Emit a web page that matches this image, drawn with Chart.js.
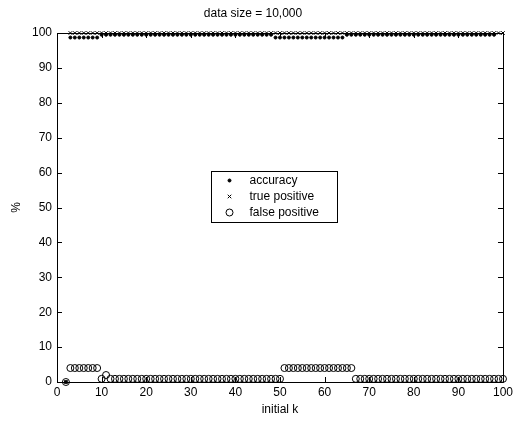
<!DOCTYPE html>
<html>
<head>
<meta charset="utf-8">
<script src="https://cdn.jsdelivr.net/npm/chart.js@4/dist/chart.umd.min.js"></script>
<style>
html,body{margin:0;padding:0;background:#fff;}
canvas{display:block;}
</style>
</head>
<body>
<canvas id="c" width="516" height="422"></canvas>
<script>
const titleText = 'data size = 10,000';
const xLabel = 'initial k';
const yLabel = '%';
const seriesNames = ['accuracy', 'true positive', 'false positive'];

const kValues = [2,3,4,5,6,7,8,9,10,11,12,13,14,15,16,17,18,19,20,21,22,23,24,25,26,27,28,29,30,31,32,33,34,35,36,37,38,39,40,41,42,43,44,45,46,47,48,49,50,51,52,53,54,55,56,57,58,59,60,61,62,63,64,65,66,67,68,69,70,71,72,73,74,75,76,77,78,79,80,81,82,83,84,85,86,87,88,89,90,91,92,93,94,95,96,97,98,99,100];

const accuracy = [0,
 98.7,98.7,98.7,98.7,98.7,98.7,98.7,
 99.5,99.5,99.5,99.5,99.5,99.5,99.5,99.5,99.5,99.5,99.5,99.5,99.5,99.5,99.5,99.5,99.5,99.5,99.5,99.5,99.5,99.5,99.5,99.5,99.5,99.5,99.5,99.5,99.5,99.5,99.5,99.5,99.5,99.5,99.5,99.5,99.5,99.5,99.5,
 98.7,98.7,98.7,98.7,98.7,98.7,98.7,98.7,98.7,98.7,98.7,98.7,98.7,98.7,98.7,98.7,
 99.5,99.5,99.5,99.5,99.5,99.5,99.5,99.5,99.5,99.5,99.5,99.5,99.5,99.5,99.5,99.5,99.5,99.5,99.5,99.5,99.5,99.5,99.5,99.5,99.5,99.5,99.5,99.5,99.5,99.5,99.5,99.5,99.5,99.5];

const truePositive = [0,
 100,100,100,100,100,100,100,100,100,100,100,100,100,100,100,100,100,100,100,100,100,100,100,100,100,100,100,100,100,100,100,100,100,100,100,100,100,100,100,100,100,100,100,100,100,100,100,100,
 100,100,100,100,100,100,100,100,100,100,100,100,100,100,100,100,100,100,100,100,100,100,100,100,100,100,100,100,100,100,100,100,100,100,100,100,100,100,100,100,100,100,100,100,100,100,100,100,100,100];

const falsePositive = [0,
 4,4,4,4,4,4,4,
 0.9,2,
 0.9,0.9,0.9,0.9,0.9,0.9,0.9,0.9,0.9,0.9,0.9,0.9,0.9,0.9,0.9,0.9,0.9,0.9,0.9,0.9,0.9,0.9,0.9,0.9,0.9,0.9,0.9,0.9,0.9,0.9,0.9,0.9,0.9,0.9,0.9,0.9,0.9,0.9,0.9,
 4,4,4,4,4,4,4,4,4,4,4,4,4,4,4,4,
 0.9,0.9,0.9,0.9,0.9,0.9,0.9,0.9,0.9,0.9,0.9,0.9,0.9,0.9,0.9,0.9,0.9,0.9,0.9,0.9,0.9,0.9,0.9,0.9,0.9,0.9,0.9,0.9,0.9,0.9,0.9,0.9,0.9,0.9];

const xTicks = [0,10,20,30,40,50,60,70,80,90,100];
const yTicks = [0,10,20,30,40,50,60,70,80,90,100];

const FONT = '"Liberation Sans", Arial, sans-serif';

function pts(vals){ return kValues.map((k,i)=>({x:k,y:vals[i]})); }

const boxAndTicks = {
  id: 'boxAndTicks',
  afterDatasetsDraw(chart){
    const ctx = chart.ctx, a = chart.chartArea;
    const xs = chart.scales.x, ys = chart.scales.y;
    ctx.save();
    ctx.strokeStyle = '#000';
    ctx.lineWidth = 1;
    ctx.beginPath();
    ctx.rect(Math.round(a.left)+0.5, Math.round(a.top)+0.5, Math.round(a.right-a.left), Math.round(a.bottom-a.top));
    ctx.stroke();
    const L = 5;
    ctx.beginPath();
    xTicks.forEach(v=>{
      const px = Math.round(xs.getPixelForValue(v))+0.5;
      ctx.moveTo(px, a.bottom); ctx.lineTo(px, a.bottom-L);
      ctx.moveTo(px, a.top); ctx.lineTo(px, a.top+L);
    });
    yTicks.forEach(v=>{
      const py = Math.round(ys.getPixelForValue(v))+0.5;
      ctx.moveTo(a.left, py); ctx.lineTo(a.left+L, py);
      ctx.moveTo(a.right, py); ctx.lineTo(a.right-L, py);
    });
    ctx.stroke();
    ctx.restore();
  },
  afterDraw(chart){
    const ctx = chart.ctx;
    const bx = 211.5, by = 171.5, bw = 126, bh = 51;
    ctx.save();
    ctx.fillStyle = '#fff';
    ctx.fillRect(bx, by, bw, bh);
    ctx.strokeStyle = '#000';
    ctx.lineWidth = 1;
    ctx.strokeRect(bx, by, bw, bh);
    ctx.font = '12px ' + FONT;
    ctx.textBaseline = 'middle';
    chart.data.datasets.forEach((ds, i)=>{
      const cy = by + 9 + i*16;
      const mx = bx + 18;
      ctx.fillStyle = ds.backgroundColor;
      ctx.strokeStyle = ds.borderColor;
      ctx.lineWidth = ds.borderWidth;
      Chart.helpers.drawPoint(ctx, {
        pointStyle: ds.pointStyle, radius: ds.pointRadius, borderWidth: ds.borderWidth, rotation: 0
      }, mx, cy);
      ctx.fillStyle = '#000';
      ctx.fillText(ds.label, bx + 38, cy);
    });
    ctx.restore();
  }
};

new Chart(document.getElementById('c'), {
  type: 'scatter',
  data: {
    datasets: [
      { label: seriesNames[0], data: pts(accuracy), pointStyle: 'circle', pointRadius: 1.5,
        backgroundColor: '#000', borderColor: '#000', borderWidth: 1, clip: false },
      { label: seriesNames[1], data: pts(truePositive), pointStyle: 'crossRot', pointRadius: 2.5,
        backgroundColor: '#000', borderColor: '#000', borderWidth: 1, clip: false },
      { label: seriesNames[2], data: pts(falsePositive), pointStyle: 'circle', pointRadius: 3.5,
        backgroundColor: 'rgba(0,0,0,0)', borderColor: '#000', borderWidth: 1, clip: false }
    ]
  },
  options: {
    responsive: false,
    animation: false,
    devicePixelRatio: 1,
    layout: { padding: { left: 0, right: 10, top: 0, bottom: 0 } },
    plugins: {
      legend: { display: false },
      tooltip: { enabled: false },
      title: {
        display: true, text: titleText, color: '#000',
        font: { family: FONT, size: 12, weight: 'normal', lineHeight: 1.2 },
        padding: { top: 6, bottom: 12.6 }
      }
    },
    scales: {
      x: {
        type: 'linear', min: 0, max: 100,
        afterBuildTicks(s){ s.ticks = xTicks.map(v=>({value:v})); },
        afterFit(s){ s.height = 40; },
        grid: { display: false, drawTicks: false },
        border: { display: false },
        ticks: { color: '#000', padding: 3, maxRotation: 0, autoSkip: false,
          font: { family: FONT, size: 12 } },
        title: { display: true, text: xLabel, color: '#000',
          font: { family: FONT, size: 12 }, padding: { top: 0, bottom: 5 } }
      },
      y: {
        type: 'linear', min: 0, max: 100,
        afterBuildTicks(s){ s.ticks = yTicks.map(v=>({value:v})); },
        afterFit(s){ s.width = 57; },
        grid: { display: false, drawTicks: false },
        border: { display: false },
        ticks: { color: '#000', padding: 5, autoSkip: false,
          font: { family: FONT, size: 12 } },
        title: { display: true, text: yLabel, color: '#000',
          font: { family: FONT, size: 12 }, padding: { top: 9, bottom: 0 } }
      }
    }
  },
  plugins: [boxAndTicks]
});
</script>
</body>
</html>
